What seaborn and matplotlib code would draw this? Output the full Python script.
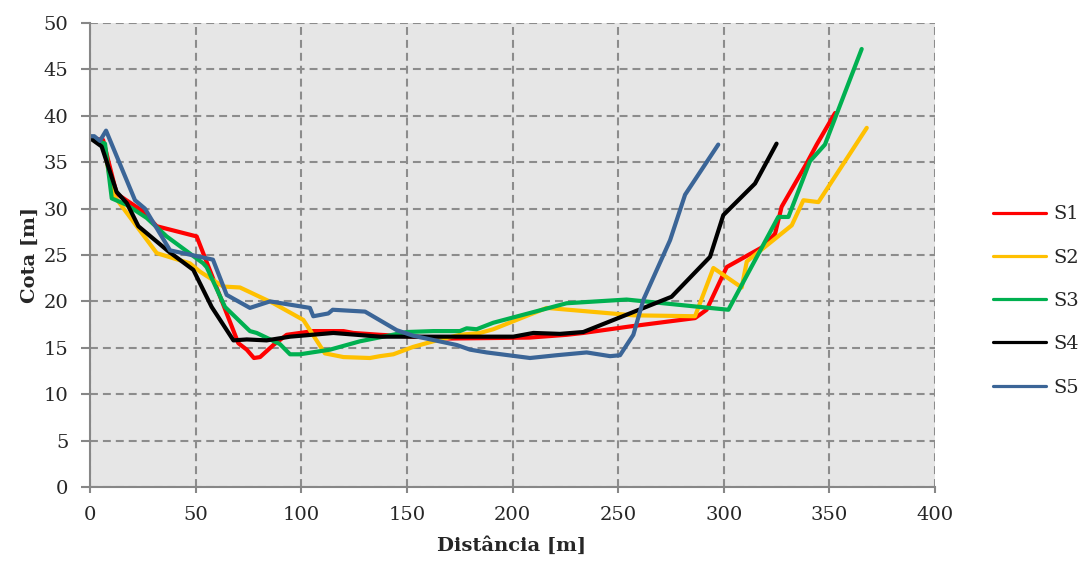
import numpy as np
import pandas as pd
import matplotlib
matplotlib.use("Agg")
import matplotlib.pyplot as plt
import seaborn as sns

# ---- data ----
series_names = ["S1", "S2", "S3", "S4", "S5"]

s1_x = [0, 6.2, 12.6, 24.5, 31.6, 50.5, 70.2, 74.2, 77.6, 80.5, 86.8, 93.1, 105.7, 120, 124.7,
        137.3, 153, 170, 208, 225.6, 233.5, 255.6, 286.4, 291.9, 301.4, 318.7, 324.3, 327.4,
        339.3, 344, 352.7]
s1_y = [37.6, 37.4, 31.6, 29.8, 28.1, 27.0, 15.5, 14.8, 13.9, 14.0, 15.3, 16.4, 16.8, 16.8, 16.6,
        16.4, 16.2, 16.0, 16.1, 16.4, 16.6, 17.3, 18.2, 19.1, 23.7, 25.9, 27.3, 30.2,
        34.9, 36.9, 40.3]

s2_x = [0, 6.3, 11, 31.6, 47.3, 52.1, 63.1, 71, 86.8, 101, 111.2, 120, 132.5, 137.3, 143.6, 153,
        162.5, 175.1, 184.6, 190.9, 216.2, 257.2, 286.4, 295.1, 308.5, 310.9, 332.2, 337.7,
        344.8, 367.7]
s2_y = [37.6, 37.0, 31.5, 25.2, 24.1, 23.2, 21.6, 21.5, 19.8, 18.0, 14.4, 14.0, 13.9, 14.1, 14.3,
        15.1, 15.7, 16.4, 16.6, 17.0, 19.3, 18.5, 18.4, 23.6, 21.5, 24.3, 28.2, 30.9,
        30.7, 38.7]

s3_x = [0, 7.1, 10.3, 17.4, 26.8, 36.3, 53.6, 55.2, 63.9, 75.7, 78.9, 89.9, 94.7, 99.4, 113.6,
        127.8, 138.8, 149.9, 162.5, 175.1, 178.3, 183, 190.9, 225.6, 254, 288.8, 302.2, 325.8,
        330.6, 340.8, 347.9, 365.3]
s3_y = [37.6, 37.0, 31.1, 30.4, 29.0, 27.0, 24.1, 23.7, 19.4, 16.8, 16.6, 15.4, 14.3, 14.3, 14.8,
        15.7, 16.2, 16.7, 16.8, 16.8, 17.1, 17.0, 17.7, 19.8, 20.2, 19.4, 19.1, 29.1,
        29.1, 35.1, 36.9, 47.2]

s4_x = [0, 5.5, 12.6, 17.4, 22.9, 37.1, 48.9, 57.6, 67.9, 74.2, 83.6, 94.7, 115.2, 137.3, 170,
        200.4, 209.9, 222.5, 233.5, 275.3, 293.5, 299.8, 314.8, 325]
s4_y = [37.6, 36.7, 31.8, 30.6, 28.1, 25.4, 23.4, 19.4, 15.8, 15.9, 15.8, 16.2, 16.6, 16.2, 16.2,
        16.2, 16.6, 16.5, 16.7, 20.5, 24.8, 29.3, 32.7, 37.0]

s5_x = [0, 2, 4.7, 7.6, 21.3, 26, 37.9, 58.2, 64.7, 75.7, 85.2, 104.1, 105.7, 112.8, 114.9, 130.2,
        145.2, 153, 173.6, 179.9, 187.8, 208.3, 220.9, 235.1, 246.2, 250.9, 257.2, 262, 274.6,
        281.7, 297.4]
s5_y = [37.8, 37.8, 37.3, 38.4, 30.9, 30.0, 25.5, 24.5, 20.7, 19.3, 20.0, 19.3, 18.4, 18.7, 19.1,
        18.9, 16.9, 16.3, 15.3, 14.8, 14.5, 13.9, 14.2, 14.5, 14.1, 14.2, 16.4, 20.2, 26.6,
        31.5, 36.9]

x_ticks = [0, 50, 100, 150, 200, 250, 300, 350, 400]
y_ticks = [0, 5, 10, 15, 20, 25, 30, 35, 40, 45, 50]

colors = ["#FF0000", "#FFC000", "#00B050", "#000000", "#3B6597"]

# ---- build long-form table ----
frames = []
for name, xs, ys in zip(series_names,
                        [s1_x, s2_x, s3_x, s4_x, s5_x],
                        [s1_y, s2_y, s3_y, s4_y, s5_y]):
    frames.append(pd.DataFrame({"Distância": xs, "Cota": ys, "Série": name,
                                "ordem": np.arange(len(xs))}))
df = pd.concat(frames, ignore_index=True)

sns.set_style("white")
plt.rcParams["font.family"] = ["DejaVu Serif"]

fig = plt.figure(figsize=(10.8, 5.65), dpi=100)
ax = fig.add_axes([90 / 1080, 1 - 487 / 565, 845 / 1080, 464 / 565])
ax.set_facecolor("#E6E6E6")

sns.lineplot(data=df, x="Distância", y="Cota", hue="Série", hue_order=series_names,
             palette=colors, sort=False, estimator=None, linewidth=3.0, ax=ax,
             legend=True)

ax.set_xlim(0, 400)
ax.set_ylim(0, 50)
ax.set_xticks(x_ticks)
ax.set_yticks(y_ticks)
ax.set_axisbelow(True)
ax.grid(True, color="#8C8C8C", linewidth=1.5, linestyle=(0, (3.8, 2.4)))

for side in ["top", "right"]:
    ax.spines[side].set_visible(False)
for side in ["left", "bottom"]:
    ax.spines[side].set_color("#878787")
    ax.spines[side].set_linewidth(1.5)

ax.tick_params(axis="y", direction="out", length=6.5, width=1.5, color="#878787",
               labelsize=14, pad=9, left=True)
ax.tick_params(axis="x", direction="out", length=4.5, width=1.5, color="#878787",
               labelsize=14, pad=9, bottom=True)

ax.set_xlabel("")
ax.set_ylabel("")
fig.text(30 / 1080, 1 - 255 / 565, "Cota [m]", rotation=90, ha="center", va="center",
         fontsize=14, fontweight="bold")
fig.text(512 / 1080, 1 - 546 / 565, "Distância [m]", ha="center", va="center",
         fontsize=14, fontweight="bold")

handles, labels = ax.get_legend_handles_labels()
ax.get_legend().remove()
leg = fig.legend(handles, labels, loc="center left", bbox_to_anchor=(993 / 1080, 1 - 301 / 565),
                 frameon=False, fontsize=14, handlelength=2.75, handletextpad=0.35,
                 labelspacing=1.3, borderpad=0, borderaxespad=0)
for h in leg.get_lines():
    h.set_linewidth(2.3)

fig.savefig("out.png", dpi=100, facecolor="white")
